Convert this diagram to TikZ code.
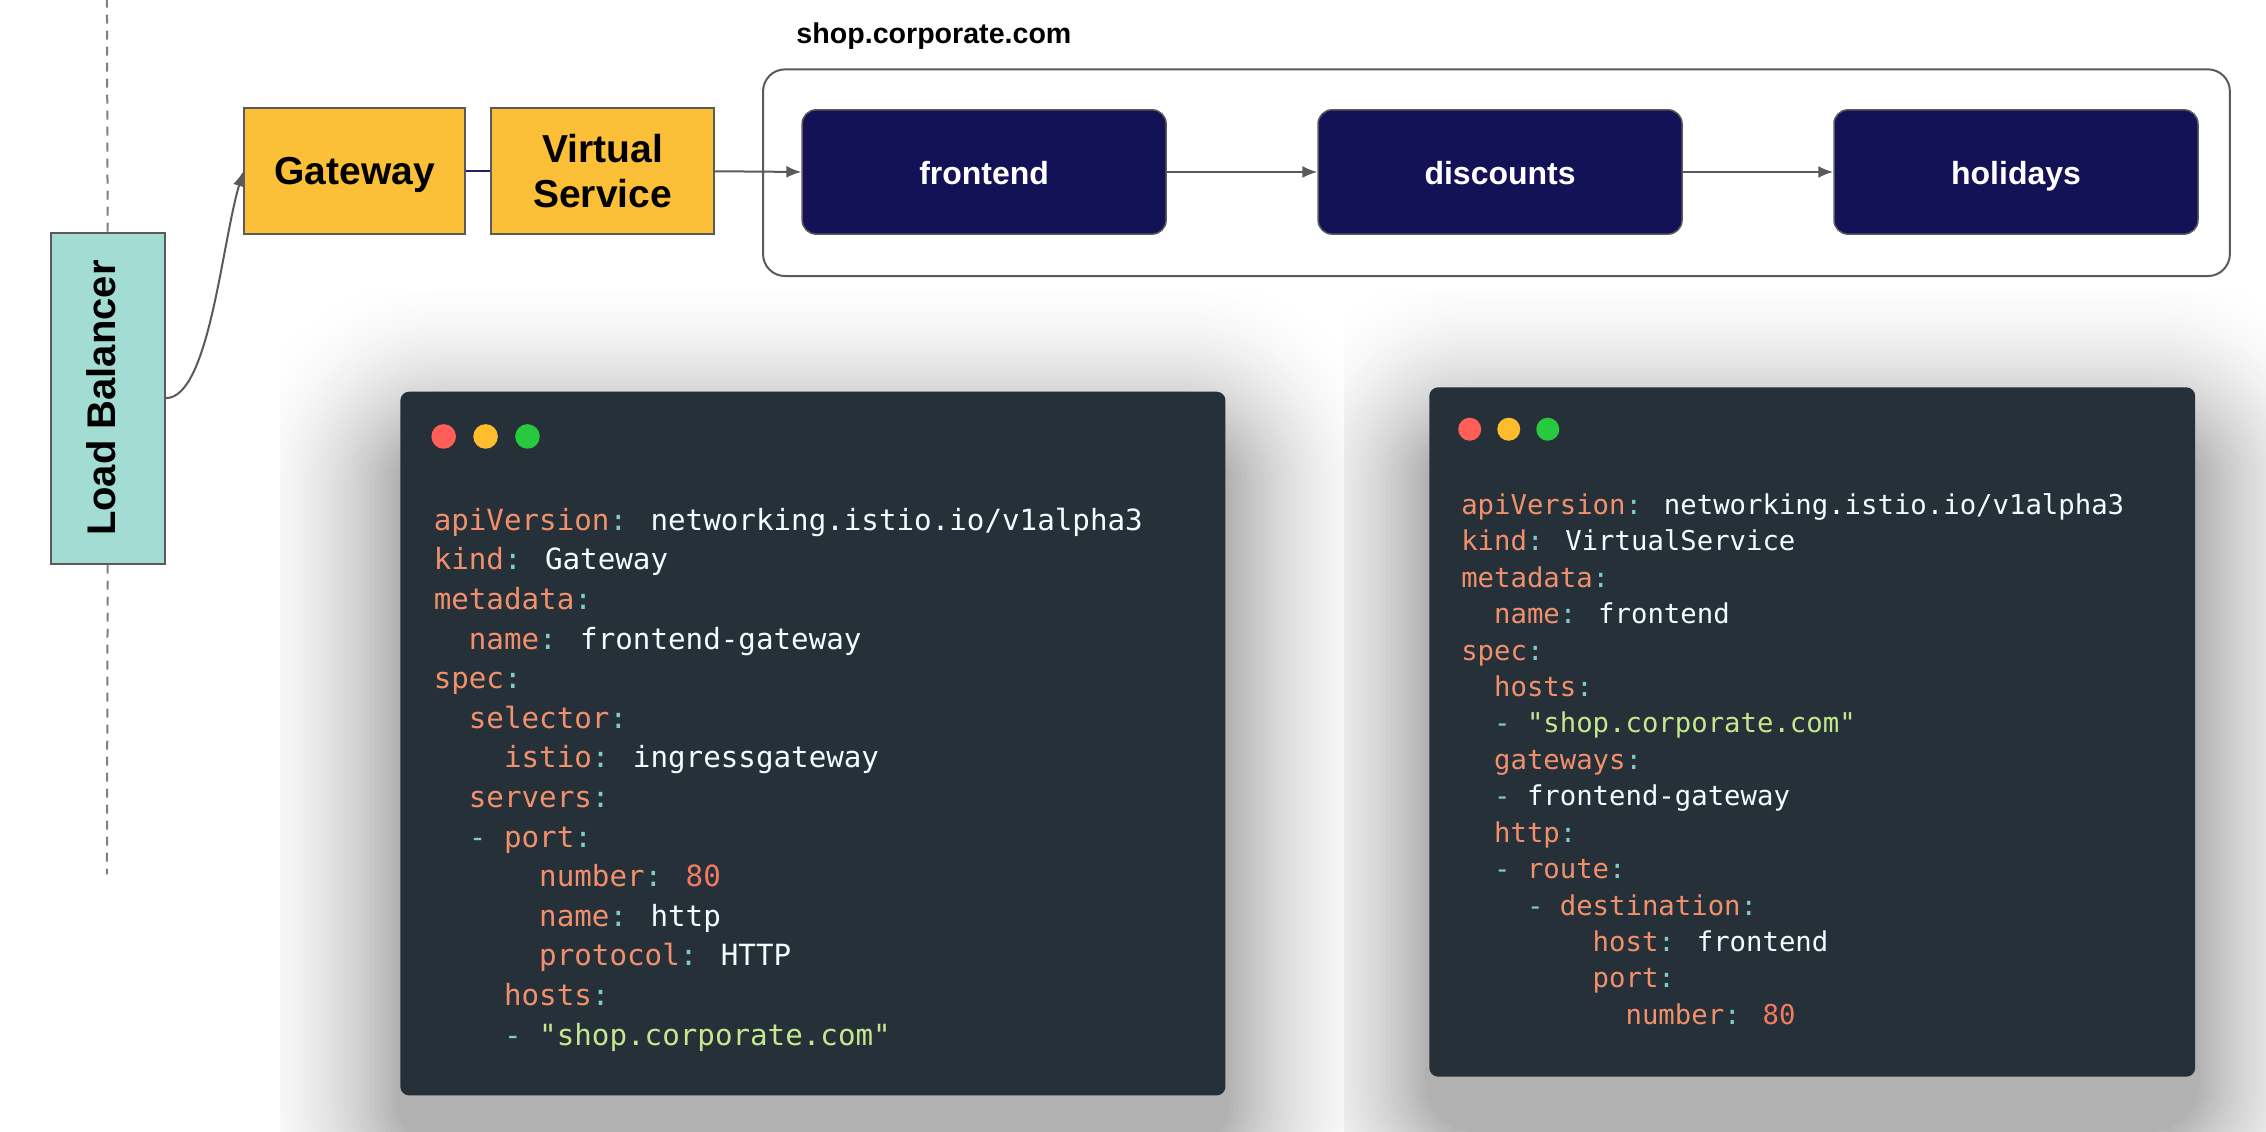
\documentclass[tikz,border=0pt]{standalone}
\usepackage{fontspec}
\setmainfont{Liberation Sans}
\newfontfamily\codefont{DejaVu Sans Mono}
\usetikzlibrary{arrows.meta}
\definecolor{lbfill}{HTML}{A2DCD2}
\definecolor{gwfill}{HTML}{FCBF38}
\definecolor{navy}{HTML}{141256}
\definecolor{edgegray}{HTML}{5A5A5A}
\definecolor{linkpurple}{HTML}{2D1B69}
\definecolor{panelbg}{HTML}{263038}
\definecolor{ckey}{HTML}{F0906C}
\definecolor{cnum}{HTML}{F27A62}
\definecolor{cpunct}{HTML}{80CBC4}
\definecolor{cval}{HTML}{EEFFFF}
\definecolor{cstr}{HTML}{C3E88D}
\definecolor{dotred}{HTML}{FF5F56}
\definecolor{dotyellow}{HTML}{FFBD2E}
\definecolor{dotgreen}{HTML}{27C93F}
\newcommand\yk[1]{\textcolor{ckey}{#1}\textcolor{cpunct}{:}}
\newcommand\yd{\textcolor{cpunct}{-}\ }
\newcommand\yv[1]{\textcolor{cval}{#1}}
\newcommand\ys[1]{\textcolor{cstr}{#1}}
\newcommand\yn[1]{\textcolor{cnum}{#1}}
\tikzset{
  lbbox/.style={draw=edgegray, line width=2pt, fill=lbfill, minimum width=114.2pt, minimum height=331pt, inner sep=0},
  ybox/.style={draw=edgegray, line width=2pt, fill=gwfill, minimum width=221pt, minimum height=125.7pt, inner sep=0, align=center, font=\bfseries\fontsize{39}{45}\selectfont},
  svc/.style={draw=edgegray, line width=1.5pt, fill=navy, rounded corners=14pt, minimum width=364pt, minimum height=124.3pt, text=white, text height=27pt, text depth=1pt, font=\bfseries\fontsize{32}{38}\selectfont},
  container/.style={draw=edgegray, line width=2pt, rounded corners=22pt, minimum width=1466.9pt, minimum height=206.7pt},
  conn/.style={draw=edgegray, line width=2pt, -{Latex[length=15pt,width=12pt]}},
  dashline/.style={draw=gray, line width=2pt, dash pattern=on 9pt off 7pt},
  panel/.style={fill=panelbg, rounded corners=9pt, inner sep=0},
  dot/.style={circle, inner sep=0},
  codeL/.style={anchor=base west, inner sep=0, text=cval, font=\codefont\fontsize{29.2}{35}\selectfont},
  codeR/.style={anchor=base west, inner sep=0, text=cval, font=\codefont\fontsize{27.3}{33}\selectfont},
}
\begin{document}
\begin{tikzpicture}[x=1.4452pt, y=-1.4452pt]
\fill[white] (0,0) rectangle (1568,783);
\useasboundingbox (0,0) rectangle (1568,783);
% shadows (nested solid grey layers)
\begin{scope}
\clip (194,200) rectangle (930,783);
\foreach \j in {0,...,39}{
  \pgfmathsetmacro\dd{120-3*\j}
  \pgfmathsetmacro\rr{\dd*1.4452+45}
  \pgfmathsetmacro\pp{32*(1-\dd/124)^2}
  \fill[black!\pp!white, rounded corners=\rr pt] (277-\dd, 306-\dd) rectangle (848+\dd, 793+\dd);
}
\end{scope}
\begin{scope}
\clip (930,200) rectangle (1568,783);
\foreach \j in {0,...,39}{
  \pgfmathsetmacro\dd{120-3*\j}
  \pgfmathsetmacro\rr{\dd*1.4452+45}
  \pgfmathsetmacro\pp{32*(1-\dd/124)^2}
  \fill[black!\pp!white, rounded corners=\rr pt] (989-\dd, 303-\dd) rectangle (1519+\dd, 780+\dd);
}
\end{scope}

% top diagram
\coordinate (dtop) at (74,0);
\coordinate (dbot) at (74,605);
\node[lbbox] (lb) at (74.5,275.5) {};
\node[rotate=90, inner sep=0, font=\bfseries\fontsize{40}{46}\selectfont] (lbtext) at ([xshift=-6pt]lb.center) {Load Balancer};
\draw[dashline] (lb.north) -- (dtop);
\draw[dashline] (lb.south) -- (dbot);

\node[ybox, text depth=0pt] (gw) at (245.5,118.5) {Gateway};
\node[ybox, minimum width=222.6pt] (vs) at (417,118.5) {Virtual\\Service};

\node[container] (shop) at (1035.5,119.5) {};
\node[anchor=west, inner sep=0, font=\bfseries\fontsize{28.6}{34}\selectfont] (shoplabel) at (551,25) {shop.corporate.com};

\node[svc] (fe) at (681,119) {frontend};
\node[svc] (disc) at (1038,119) {discounts};
\node[svc] (hol) at (1395,119) {holidays};

\draw[conn] (lb.east) .. controls +(30,0) and +(-15,50) .. (gw.west);
\draw[linkpurple, line width=2pt] (gw.east) -- (vs.west);
\draw[conn] (vs.east) -- (fe.west);
\draw[conn] (fe.east) -- (disc.west);
\draw[conn] (disc.east) -- (hol.west);

% left code panel
\node[panel, minimum width=825.2pt, minimum height=703.8pt] (gwpanel) at (562.5,514.5) {};
\node[dot, fill=dotred, minimum size=24.6pt] (gwred) at (307,302) {};
\node[dot, fill=dotyellow, minimum size=24.6pt] (gwyellow) at (336,302) {};
\node[dot, fill=dotgreen, minimum size=24.6pt] (gwgreen) at (365,302) {};
\node[codeL] (gl1) at (300,367) {\yk{apiVersion} \yv{networking.istio.io/v1alpha3}};
\node[codeL] (gl2) at (300,394.4) {\yk{kind} \yv{Gateway}};
\node[codeL] (gl3) at (300,421.8) {\yk{metadata}};
\node[codeL] (gl4) at (300,449.2) {\phantom{xx}\yk{name} \yv{frontend-gateway}};
\node[codeL] (gl5) at (300,476.6) {\yk{spec}};
\node[codeL] (gl6) at (300,504) {\phantom{xx}\yk{selector}};
\node[codeL] (gl7) at (300,531.4) {\phantom{xxxx}\yk{istio} \yv{ingressgateway}};
\node[codeL] (gl8) at (300,558.8) {\phantom{xx}\yk{servers}};
\node[codeL] (gl9) at (300,586.2) {\phantom{xx}\yd\yk{port}};
\node[codeL] (gl10) at (300,613.6) {\phantom{xxxxxx}\yk{number} \yn{80}};
\node[codeL] (gl11) at (300,641) {\phantom{xxxxxx}\yk{name} \yv{http}};
\node[codeL] (gl12) at (300,668.4) {\phantom{xxxxxx}\yk{protocol} \yv{HTTP}};
\node[codeL] (gl13) at (300,695.8) {\phantom{xxxx}\yk{hosts}};
\node[codeL] (gl14) at (300,723.2) {\phantom{xxxx}\yd\ys{"shop.corporate.com"}};

% right code panel
\node[panel, minimum width=766pt, minimum height=689.4pt] (vspanel) at (1254,506.5) {};
\node[dot, fill=dotred, minimum size=23pt] (vsred) at (1017,297) {};
\node[dot, fill=dotyellow, minimum size=23pt] (vsyellow) at (1044,297) {};
\node[dot, fill=dotgreen, minimum size=23pt] (vsgreen) at (1071,297) {};
\node[codeR] (vl1) at (1011,356) {\yk{apiVersion} \yv{networking.istio.io/v1alpha3}};
\node[codeR] (vl2) at (1011,381.2) {\yk{kind} \yv{VirtualService}};
\node[codeR] (vl3) at (1011,406.4) {\yk{metadata}};
\node[codeR] (vl4) at (1011,431.6) {\phantom{xx}\yk{name} \yv{frontend}};
\node[codeR] (vl5) at (1011,456.8) {\yk{spec}};
\node[codeR] (vl6) at (1011,482) {\phantom{xx}\yk{hosts}};
\node[codeR] (vl7) at (1011,507.2) {\phantom{xx}\yd\ys{"shop.corporate.com"}};
\node[codeR] (vl8) at (1011,532.4) {\phantom{xx}\yk{gateways}};
\node[codeR] (vl9) at (1011,557.6) {\phantom{xx}\yd\yv{frontend-gateway}};
\node[codeR] (vl10) at (1011,582.8) {\phantom{xx}\yk{http}};
\node[codeR] (vl11) at (1011,608) {\phantom{xx}\yd\yk{route}};
\node[codeR] (vl12) at (1011,633.2) {\phantom{xxxx}\yd\yk{destination}};
\node[codeR] (vl13) at (1011,658.4) {\phantom{xxxxxxxx}\yk{host} \yv{frontend}};
\node[codeR] (vl14) at (1011,683.6) {\phantom{xxxxxxxx}\yk{port}};
\node[codeR] (vl15) at (1011,708.8) {\phantom{xxxxxxxxxx}\yk{number} \yn{80}};
\end{tikzpicture}
\end{document}
